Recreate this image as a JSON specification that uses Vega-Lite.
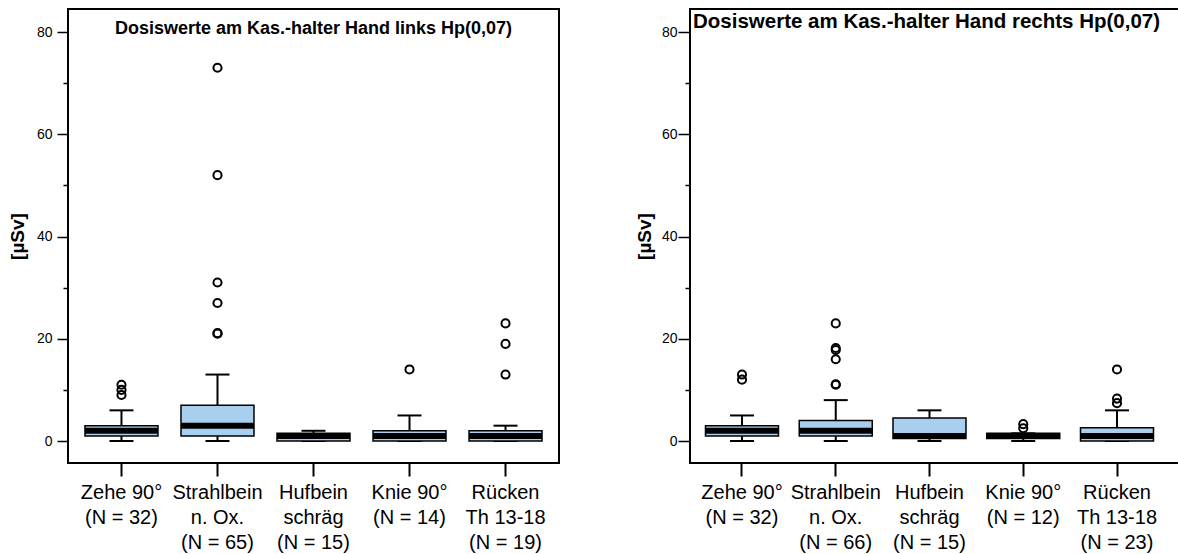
{
  "$schema": "https://vega.github.io/schema/vega-lite/v6.json",
  "autosize": {"type": "none"},
  "padding": {"left": 68, "top": 9, "right": 1110, "bottom": 545},
  "background": "white",
  "bounds": "flush",
  "spacing": 131,
  "config": {
    "font": "Liberation Sans",
    "view": {"stroke": "black", "strokeWidth": 2},
    "axis": {"grid": false, "labelColor": "black", "titleColor": "black", "tickColor": "black", "domain": false}
  },
  "datasets": {
    "leftStats": [
      {"cat": "Zehe 90°|(N = 32)", "lo": 0, "q1": 1, "med": 2, "q3": 3, "hi": 6},
      {"cat": "Strahlbein|n. Ox.|(N = 65)", "lo": 0, "q1": 1, "med": 3, "q3": 7, "hi": 13},
      {"cat": "Hufbein|schräg|(N = 15)", "lo": 0, "q1": 0, "med": 1, "q3": 1.5, "hi": 2},
      {"cat": "Knie 90°|(N = 14)", "lo": 0, "q1": 0, "med": 1, "q3": 2, "hi": 5},
      {"cat": "Rücken|Th 13-18|(N = 19)", "lo": 0, "q1": 0, "med": 1, "q3": 2, "hi": 3}
    ],
    "leftOut": [
      {"cat": "Zehe 90°|(N = 32)", "v": 9},
      {"cat": "Zehe 90°|(N = 32)", "v": 10},
      {"cat": "Zehe 90°|(N = 32)", "v": 11},
      {"cat": "Strahlbein|n. Ox.|(N = 65)", "v": 73},
      {"cat": "Strahlbein|n. Ox.|(N = 65)", "v": 52},
      {"cat": "Strahlbein|n. Ox.|(N = 65)", "v": 31},
      {"cat": "Strahlbein|n. Ox.|(N = 65)", "v": 27},
      {"cat": "Strahlbein|n. Ox.|(N = 65)", "v": 21},
      {"cat": "Strahlbein|n. Ox.|(N = 65)", "v": 21.1},
      {"cat": "Knie 90°|(N = 14)", "v": 14},
      {"cat": "Rücken|Th 13-18|(N = 19)", "v": 13},
      {"cat": "Rücken|Th 13-18|(N = 19)", "v": 19},
      {"cat": "Rücken|Th 13-18|(N = 19)", "v": 23}
    ],
    "rightStats": [
      {"cat": "Zehe 90°|(N = 32)", "lo": 0, "q1": 1, "med": 2, "q3": 3, "hi": 5},
      {"cat": "Strahlbein|n. Ox.|(N = 66)", "lo": 0, "q1": 1, "med": 2, "q3": 4, "hi": 8},
      {"cat": "Hufbein|schräg|(N = 15)", "lo": 0, "q1": 0.5, "med": 1, "q3": 4.5, "hi": 6},
      {"cat": "Knie 90°|(N = 12)", "lo": 0, "q1": 0.5, "med": 1, "q3": 1.5, "hi": 1.5},
      {"cat": "Rücken|Th 13-18|(N = 23)", "lo": 0, "q1": 0, "med": 1, "q3": 2.6, "hi": 6}
    ],
    "rightOut": [
      {"cat": "Zehe 90°|(N = 32)", "v": 12},
      {"cat": "Zehe 90°|(N = 32)", "v": 13},
      {"cat": "Strahlbein|n. Ox.|(N = 66)", "v": 23},
      {"cat": "Strahlbein|n. Ox.|(N = 66)", "v": 18.2},
      {"cat": "Strahlbein|n. Ox.|(N = 66)", "v": 17.8},
      {"cat": "Strahlbein|n. Ox.|(N = 66)", "v": 16},
      {"cat": "Strahlbein|n. Ox.|(N = 66)", "v": 11},
      {"cat": "Strahlbein|n. Ox.|(N = 66)", "v": 11.1},
      {"cat": "Knie 90°|(N = 12)", "v": 3.3},
      {"cat": "Knie 90°|(N = 12)", "v": 2.5},
      {"cat": "Rücken|Th 13-18|(N = 23)", "v": 14},
      {"cat": "Rücken|Th 13-18|(N = 23)", "v": 8.3},
      {"cat": "Rücken|Th 13-18|(N = 23)", "v": 7.4}
    ]
  },
  "hconcat": [
    {
      "width": 491,
      "height": 454,
      "title": {"text": "Dosiswerte am Kas.-halter Hand links Hp(0,07)", "fontSize": 18, "fontWeight": "bold", "color": "black", "anchor": "middle", "baseline": "alphabetic", "offset": -43, "frame": "group"},
      "encoding": {
        "x": {
          "field": "cat", "type": "nominal", "sort": null,
          "scale": {
            "domain": ["Zehe 90°|(N = 32)", "Strahlbein|n. Ox.|(N = 65)", "Hufbein|schräg|(N = 15)", "Knie 90°|(N = 14)", "Rücken|Th 13-18|(N = 19)"],
            "paddingInner": 0, "paddingOuter": 0.057
          },
          "axis": {"title": null, "labelAngle": 0, "labelExpr": "split(datum.value, '|')", "labelFontSize": 20, "labelLineHeight": 25, "labelBaseline": "top", "labelPadding": 6, "tickSize": 13, "tickWidth": 2}
        }
      },
      "layer": [
        {
          "data": {"name": "leftStats"},
          "mark": {"type": "rule", "color": "black", "strokeWidth": 2},
          "encoding": {
            "y": {
              "field": "lo", "type": "quantitative",
              "scale": {"domain": [-4.3, 84.5], "nice": false, "zero": false},
              "axis": {
                "title": "[µSv]", "titleFontSize": 19, "titleFontWeight": "bold", "titlePadding": 9,
                "values": [0, 10, 20, 30, 40, 50, 60, 70, 80],
                "labelExpr": "datum.value % 20 === 0 ? datum.label : ''",
                "labelFontSize": 14, "labelPadding": 5, "tickWidth": 1.5,
                "tickSize": {"condition": {"test": "datum.value % 20 === 0", "value": 11}, "value": 5}
              }
            },
            "y2": {"field": "hi"}
          }
        },
        {
          "data": {"name": "leftStats"},
          "mark": {"type": "tick", "color": "black", "opacity": 1, "size": 24, "thickness": 2, "orient": "horizontal"},
          "encoding": {"y": {"field": "hi", "type": "quantitative"}}
        },
        {
          "data": {"name": "leftStats"},
          "mark": {"type": "tick", "color": "black", "opacity": 1, "size": 24, "thickness": 2, "orient": "horizontal"},
          "encoding": {"y": {"field": "lo", "type": "quantitative"}}
        },
        {
          "data": {"name": "leftStats"},
          "mark": {"type": "bar", "size": 73, "fill": "#a9cfee", "stroke": "black", "strokeWidth": 1.5},
          "encoding": {"y": {"field": "q1", "type": "quantitative"}, "y2": {"field": "q3"}}
        },
        {
          "data": {"name": "leftStats"},
          "mark": {"type": "tick", "color": "black", "opacity": 1, "size": 73, "thickness": 6, "orient": "horizontal"},
          "encoding": {"y": {"field": "med", "type": "quantitative"}}
        },
        {
          "data": {"name": "leftOut"},
          "mark": {"type": "point", "shape": "circle", "filled": false, "color": "black", "strokeWidth": 2, "size": 66, "opacity": 1},
          "encoding": {"y": {"field": "v", "type": "quantitative"}}
        }
      ]
    },
    {
      "width": 490,
      "height": 454,
      "title": {"text": "Dosiswerte am Kas.-halter Hand rechts Hp(0,07)", "fontSize": 20.5, "fontWeight": "bold", "color": "black", "anchor": "start", "dx": 3, "baseline": "alphabetic", "offset": -39, "frame": "group"},
      "encoding": {
        "x": {
          "field": "cat", "type": "nominal", "sort": null,
          "scale": {
            "domain": ["Zehe 90°|(N = 32)", "Strahlbein|n. Ox.|(N = 66)", "Hufbein|schräg|(N = 15)", "Knie 90°|(N = 12)", "Rücken|Th 13-18|(N = 23)"],
            "paddingInner": 0, "paddingOuter": 0.1133, "align": 0.241
          },
          "axis": {"title": null, "labelAngle": 0, "labelExpr": "split(datum.value, '|')", "labelFontSize": 20, "labelLineHeight": 25, "labelBaseline": "top", "labelPadding": 6, "tickSize": 13, "tickWidth": 2}
        }
      },
      "layer": [
        {
          "data": {"name": "rightStats"},
          "mark": {"type": "rule", "color": "black", "strokeWidth": 2},
          "encoding": {
            "y": {
              "field": "lo", "type": "quantitative",
              "scale": {"domain": [-4.3, 84.5], "nice": false, "zero": false},
              "axis": {
                "title": "[µSv]", "titleFontSize": 19, "titleFontWeight": "bold", "titlePadding": 7,
                "values": [0, 10, 20, 30, 40, 50, 60, 70, 80],
                "labelExpr": "datum.value % 20 === 0 ? datum.label : ''",
                "labelFontSize": 14, "labelPadding": 1, "tickWidth": 1.5,
                "tickSize": {"condition": {"test": "datum.value % 20 === 0", "value": 12}, "value": 5}
              }
            },
            "y2": {"field": "hi"}
          }
        },
        {
          "data": {"name": "rightStats"},
          "mark": {"type": "tick", "color": "black", "opacity": 1, "size": 24, "thickness": 2, "orient": "horizontal"},
          "encoding": {"y": {"field": "hi", "type": "quantitative"}}
        },
        {
          "data": {"name": "rightStats"},
          "mark": {"type": "tick", "color": "black", "opacity": 1, "size": 24, "thickness": 2, "orient": "horizontal"},
          "encoding": {"y": {"field": "lo", "type": "quantitative"}}
        },
        {
          "data": {"name": "rightStats"},
          "mark": {"type": "bar", "size": 73, "fill": "#a9cfee", "stroke": "black", "strokeWidth": 1.5},
          "encoding": {"y": {"field": "q1", "type": "quantitative"}, "y2": {"field": "q3"}}
        },
        {
          "data": {"name": "rightStats"},
          "mark": {"type": "tick", "color": "black", "opacity": 1, "size": 73, "thickness": 6, "orient": "horizontal"},
          "encoding": {"y": {"field": "med", "type": "quantitative"}}
        },
        {
          "data": {"name": "rightOut"},
          "mark": {"type": "point", "shape": "circle", "filled": false, "color": "black", "strokeWidth": 2, "size": 66, "opacity": 1},
          "encoding": {"y": {"field": "v", "type": "quantitative"}}
        }
      ]
    }
  ]
}
